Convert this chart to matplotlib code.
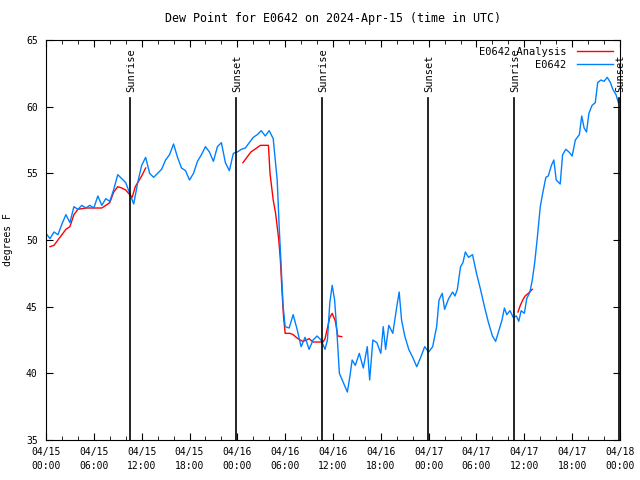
import numpy as np
import matplotlib
matplotlib.use("Agg")
import matplotlib.pyplot as plt

plt.rcParams["font.family"] = ["DejaVu Sans Mono"]
plt.rcParams["font.size"] = 7

# -------------------------------
# DATA (hours since 04/15 00:00 UTC)
# -------------------------------

obs_hours = [
    0.0, 0.5, 1.0, 1.5, 2.0, 2.5, 3.0, 3.5, 4.0, 4.5, 5.0, 5.5, 6.0, 6.5,
    7.0, 7.5, 8.0, 8.5, 9.0, 9.5, 10.0, 10.5, 11.0, 11.5, 12.0, 12.5, 13.0,
    13.5, 14.0, 14.5, 15.0, 15.5, 16.0, 16.5, 17.0, 17.5, 18.0, 18.5, 19.0,
    19.5, 20.0, 20.5, 21.0, 21.5, 22.0, 22.5, 23.0, 23.5, 24.0, 24.5, 25.0,
    25.5, 26.0, 26.5, 27.0, 27.5, 28.0, 28.5, 29.0, 29.25, 29.5, 29.75, 30.0,
    30.5, 31.0, 31.5, 32.0, 32.5, 33.0, 33.5, 34.0, 34.5, 35.0, 35.3, 35.6,
    35.9, 36.2, 36.5, 36.8, 37.3, 37.8, 38.1, 38.4, 38.8, 39.3, 39.8, 40.3,
    40.6, 41.0, 41.5, 42.0, 42.3, 42.6, 43.0, 43.5, 44.0, 44.3, 44.6, 45.0,
    45.5, 46.0, 46.5, 47.0, 47.5, 48.0, 48.5, 49.0, 49.3, 49.7, 50.0, 50.5,
    51.0, 51.3, 51.6, 52.0, 52.3, 52.6, 53.0, 53.5, 54.0, 54.5, 55.0, 55.5,
    56.0, 56.4, 56.8, 57.2, 57.5, 57.8, 58.2, 58.6, 59.0, 59.3, 59.6, 60.0,
    60.3, 60.7, 61.0, 61.3, 61.6, 62.0, 62.3, 62.7, 63.0, 63.4, 63.7, 64.0,
    64.5, 64.8, 65.2, 65.6, 66.0, 66.4, 66.9, 67.2, 67.5, 67.8, 68.1, 68.5,
    68.9, 69.2, 69.6, 70.0, 70.4, 70.8, 71.1, 71.5, 71.8,
]
obs_dew = [
    50.5, 50.1, 50.6, 50.4, 51.2, 51.9, 51.3, 52.5, 52.3, 52.6, 52.4, 52.6,
    52.4, 53.3, 52.6, 53.1, 52.9, 53.8, 54.9, 54.6, 54.3, 53.5, 52.7, 54.3,
    55.6, 56.2, 55.0, 54.7, 55.0, 55.3, 56.0, 56.4, 57.2, 56.2, 55.4, 55.2,
    54.5, 55.0, 55.9, 56.4, 57.0, 56.6, 55.9, 57.0, 57.3, 55.8, 55.2, 56.5,
    56.6, 56.8, 56.9, 57.3, 57.7, 57.9, 58.2, 57.8, 58.2, 57.6, 54.5, 51.0,
    48.0, 45.0, 43.5, 43.4, 44.4, 43.3, 42.0, 42.7, 41.8, 42.5, 42.8, 42.5,
    41.8, 42.5, 45.3, 46.6, 45.5, 43.0, 40.0, 39.3, 38.6, 39.7, 41.0, 40.6,
    41.5, 40.4, 42.0, 39.5, 42.5, 42.3, 41.5, 43.5, 41.8, 43.6, 43.0, 45.0,
    46.1, 44.0, 42.8, 41.8, 41.2, 40.5, 41.2, 42.0, 41.6, 42.0, 43.5, 45.5,
    46.0, 44.8, 45.6, 46.1, 45.8, 46.3, 48.0, 48.3, 49.1, 48.7, 48.9, 47.5,
    46.3, 45.0, 43.8, 42.8, 42.4, 43.2, 44.0, 44.9, 44.4, 44.7, 44.2, 44.3,
    43.9, 44.7, 44.5, 45.6, 46.1, 47.0, 48.3, 50.0, 52.5, 53.5, 54.7, 54.8,
    55.6, 56.0, 54.5, 54.2, 56.4, 56.8, 56.6, 56.3, 57.5, 57.9, 59.3, 58.4,
    58.1, 59.5, 60.1, 60.3, 61.8, 62.0, 61.9, 62.2, 61.8, 61.3, 60.9, 60.3,
]

# analysis series, NaN separates the three pieces
ana_hours = [
    0.5, 1.0, 1.5, 2.0, 2.5, 3.0, 3.5, 4.0, 5.0, 6.0, 7.0, 7.5, 8.0, 8.5,
    9.0, 9.5, 10.0, 10.5, 10.8, 11.2, 11.6, 12.0, 12.5, 12.6,
    24.7, 25.2, 25.7, 26.3, 26.9, 27.9, 28.1, 28.5, 28.8, 29.0, 29.2, 29.4,
    29.6, 29.8, 30.0, 30.6, 31.0, 31.6, 32.2, 32.7, 33.0, 33.5, 34.0, 34.75,
    35.0, 35.3, 35.6, 35.9, 36.3, 36.6, 37.1, 37.2,
    59.2, 59.5, 59.8, 60.1, 60.5, 61.0,
]
ana_dew = [
    49.5, 49.6, 50.0, 50.4, 50.8, 51.0, 51.9, 52.3, 52.4, 52.4, 52.4, 52.6,
    52.8, 53.6, 54.0, 53.9, 53.75, 53.4, 53.2, 54.0, 54.4, 54.8, 55.4, np.nan,
    55.8, 56.2, 56.6, 56.85, 57.1, 57.1, 55.0, 53.0, 52.0, 51.0, 50.0, 48.5,
    46.2, 44.2, 43.0, 43.0, 42.9, 42.6, 42.4, 42.5, 42.6, 42.35, 42.35, 42.35,
    42.6, 43.4, 44.2, 44.5, 43.9, 42.8, 42.75, np.nan,
    44.6, 45.1, 45.5, 45.8, 46.0, 46.3,
]

sun_hours = [10.54, 23.83, 34.6, 47.9, 58.7, 71.85]
sun_labels = ["Sunrise", "Sunset", "Sunrise", "Sunset", "Sunrise", "Sunset"]

tick_hours = list(range(0, 73, 6))
tick_labels = [
    "04/15\n00:00", "04/15\n06:00", "04/15\n12:00", "04/15\n18:00",
    "04/16\n00:00", "04/16\n06:00", "04/16\n12:00", "04/16\n18:00",
    "04/17\n00:00", "04/17\n06:00", "04/17\n12:00", "04/17\n18:00",
    "04/18\n00:00",
]

# -------------------------------
# PLOT
# -------------------------------

fig = plt.figure(figsize=(6.4, 4.8), dpi=100)
ax = fig.add_axes([46 / 640, 40 / 480, 574 / 640, 400 / 480])

ax.plot(ana_hours, ana_dew, color="#ff0000", lw=1, label="E0642 Analysis")
ax.plot(obs_hours, obs_dew, color="#0080ff", lw=1, label="E0642")

for h, lab in zip(sun_hours, sun_labels):
    ax.axvline(h, ymin=0, ymax=0.855, color="black", lw=1.2)
    ax.text(h + 0.15, 0.87, lab, rotation=90, ha="center", va="bottom",
            transform=ax.get_xaxis_transform(), fontsize=7.5)

ax.set_xlim(0, 72)
ax.set_ylim(35, 65)
ax.set_xticks(tick_hours)
ax.set_xticklabels(tick_labels, linespacing=1.5)
ax.set_xticks(range(0, 73, 2), minor=True)
ax.set_yticks(range(35, 66, 5))
ax.tick_params(which="both", direction="in", top=True, right=True)
ax.tick_params(which="major", length=5)
ax.tick_params(which="minor", length=3)
ax.tick_params(axis="x", pad=5)
ax.tick_params(axis="y", pad=6)

ax.set_ylabel("degrees F", labelpad=9)
ax.set_title("Dew Point for E0642 on 2024-Apr-15 (time in UTC)", pad=13)

leg = ax.legend(loc="upper right", frameon=False, markerfirst=False,
                handlelength=3.5, borderaxespad=0.25, labelspacing=0.3,
                handletextpad=1.0, fontsize=7.5)

fig.savefig("out.png", dpi=100)
